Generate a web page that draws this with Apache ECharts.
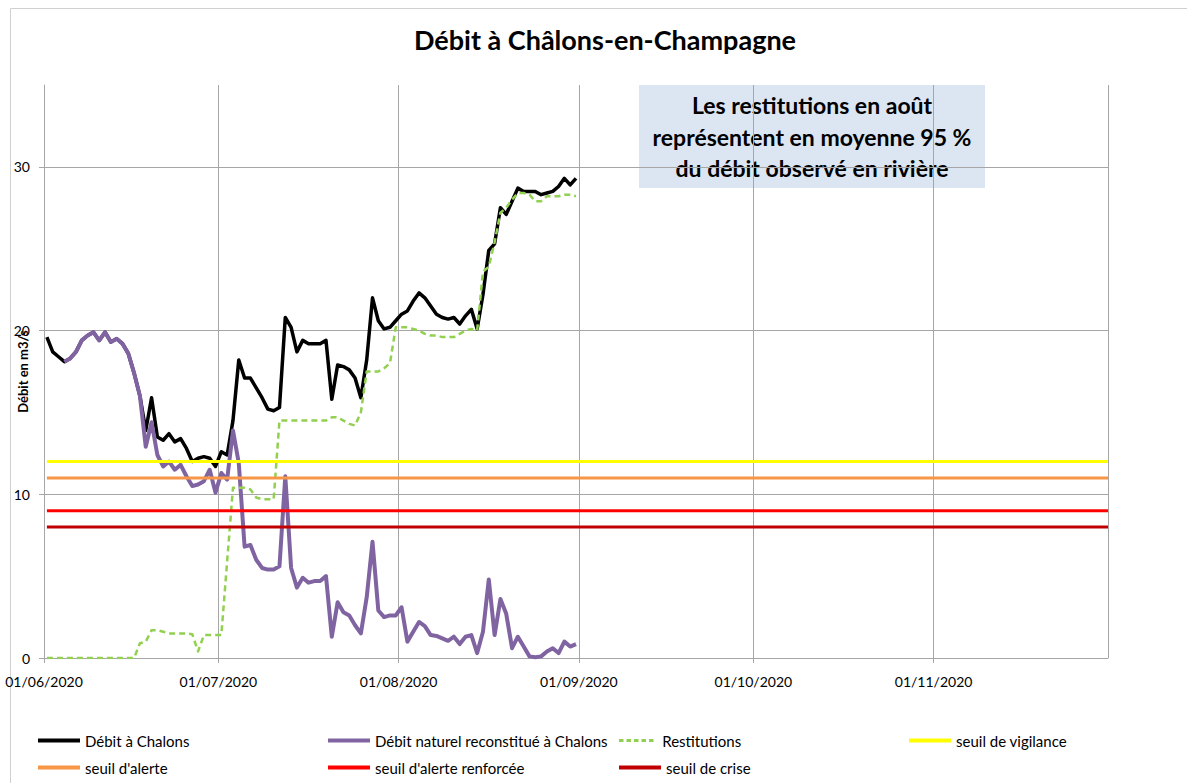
<!DOCTYPE html>
<html>
<head>
<meta charset="utf-8">
<script src="https://cdn.jsdelivr.net/npm/echarts@6/dist/echarts.min.js"></script>
<style>
html,body{margin:0;padding:0;background:#ffffff;}
#chart{width:1187px;height:783px;}
</style>
</head>
<body>
<div id="chart"></div>
<script>
// ---------------- DATA ----------------
// Daily values from 01/06/2020 (index 0) to 31/08/2020 (index 91), in m3/s
const firstDay = '2020-06-01';
const axisStart = '2020-06-01';
const axisEnd = '2020-12-01';

const debitChalons = [
  19.6, 18.7, 18.4, 18.1, 18.3, 18.7, 19.4, 19.7, 19.9, 19.4,
  19.9, 19.3, 19.5, 19.2, 18.6, 17.4, 16.0, 13.9, 15.9, 13.5,
  13.3, 13.7, 13.2, 13.4, 12.8, 12.0, 12.2, 12.3, 12.2, 11.7,
  12.6, 12.4, 14.5, 18.2, 17.1, 17.1, 16.5, 15.9, 15.2, 15.1,
  15.3, 20.8, 20.2, 18.7, 19.4, 19.2, 19.2, 19.2, 19.4, 15.8,
  17.9, 17.8, 17.6, 17.1, 15.9, 18.2, 22.0, 20.6, 20.1, 20.2,
  20.6, 21.0, 21.2, 21.8, 22.3, 22.0, 21.5, 21.0, 20.8, 20.7,
  20.8, 20.4, 20.9, 21.3, 20.1, 22.2, 24.9, 25.3, 27.5, 27.1,
  27.9, 28.7, 28.5, 28.5, 28.5, 28.3, 28.4, 28.5, 28.8, 29.3,
  28.9, 29.3
];

const debitNaturel = [
  null, null, null, 18.1, 18.3, 18.7, 19.4, 19.7, 19.9, 19.4,
  19.9, 19.3, 19.5, 19.2, 18.6, 17.4, 16.0, 12.9, 14.4, 12.4,
  11.7, 12.0, 11.5, 11.8, 11.1, 10.5, 10.6, 10.8, 11.5, 10.1,
  11.3, 10.9, 13.9, 11.9, 6.8, 6.9, 6.0, 5.5, 5.4, 5.4,
  5.6, 11.1, 5.5, 4.3, 4.9, 4.6, 4.7, 4.7, 5.0, 1.3,
  3.4, 2.8, 2.6, 2.0, 1.5, 3.7, 7.1, 2.9, 2.5, 2.6,
  2.6, 3.1, 1.0, 1.6, 2.2, 1.95, 1.4, 1.35, 1.2, 1.05,
  1.3, 0.85, 1.3, 1.4, 0.3, 1.6, 4.8, 1.4, 3.6, 2.7,
  0.6, 1.3, 0.7, 0.1, 0.05, 0.1, 0.4, 0.6, 0.3, 1.0,
  0.7, 0.85
];

const restitutions = [
  0, 0, 0, 0, 0, 0, 0, 0, 0, 0,
  0, 0, 0, 0, 0, 0, 0.9, 1.0, 1.7, 1.7,
  1.6, 1.5, 1.5, 1.5, 1.5, 1.45, 0.4, 1.4, 1.4, 1.4,
  1.4, 5.9, 10.4, 10.4, 10.4, 10.3, 9.8, 9.7, 9.7, 9.7,
  14.5, 14.5, 14.5, 14.5, 14.5, 14.5, 14.5, 14.5, 14.5, 14.7,
  14.7, 14.5, 14.3, 14.2, 15.0, 17.5, 17.5, 17.5, 17.7, 18.0,
  20.2, 20.2, 20.2, 20.1, 20.0, 19.8, 19.7, 19.7, 19.6, 19.6,
  19.6, 19.8, 20.0, 20.1, 20.0, 23.6, 23.9, 25.4, 27.2, 27.5,
  28.0, 28.4, 28.4, 28.3, 27.9, 27.9, 28.2, 28.2, 28.2, 28.3,
  28.3, 28.2
];

const seuilVigilance = 12;
const seuilAlerte = 11;
const seuilAlerteRenforcee = 9;
const seuilCrise = 8;

const yTicks = [0, 10, 20, 30];
const seriesNames = [
  'Débit à Chalons',
  'Débit naturel reconstitué à Chalons',
  'Restitutions',
  'seuil de vigilance',
  "seuil d'alerte",
  "seuil d'alerte renforcée",
  'seuil de crise'
];
const titleText = 'Débit à Châlons-en-Champagne';
const yAxisName = 'Débit en m3/s';
const noteLines = [
  'Les restitutions en août',
  'représentent en moyenne 95 %',
  'du débit observé en rivière'
];

// ---------------- HELPERS ----------------
const FONT = 'Lato, "Liberation Sans", sans-serif';
function parseDay(s) { const p = s.split('-').map(Number); return new Date(p[0], p[1] - 1, p[2]); }
const day0 = parseDay(firstDay);
// daily points sit in the middle of their day (Excel date axis "between tick marks")
function dayTime(i) { return new Date(day0.getFullYear(), day0.getMonth(), day0.getDate() + i, 12).getTime(); }
const xMin = parseDay(axisStart).getTime();
const xMax = parseDay(axisEnd).getTime();
function toPairs(arr) { return arr.map((v, i) => [dayTime(i), v]); }
function flat(v) { return [[dayTime(0), v], [xMax, v]]; }
function pad(n) { return (n < 10 ? '0' : '') + n; }

const colors = ['#000000', '#8064a2', '#92d050', '#ffff00', '#f79646', '#ff0000', '#c00000'];
const widths = [3.5, 4, 2.5, 3, 3, 3, 3];
const seriesData = [
  toPairs(debitChalons), toPairs(debitNaturel), toPairs(restitutions),
  flat(seuilVigilance), flat(seuilAlerte), flat(seuilAlerteRenforcee), flat(seuilCrise)
];

const series = seriesNames.map((name, k) => ({
  name: name,
  type: 'line',
  data: seriesData[k],
  symbol: 'none',
  showSymbol: false,
  connectNulls: false,
  animation: false,
  itemStyle: { color: colors[k] },
  lineStyle: {
    color: colors[k],
    width: widths[k],
    type: k === 2 ? [6, 4] : 'solid',
    join: 'round'
  },
  emphasis: { disabled: true },
  z: 2 + k
}));

// legend placement (two rows)
const legendPlaces = [
  [38, 733], [328, 733], [619, 733], [909, 733],
  [38, 760], [328, 760], [619, 760]
];
const dashedIcon = 'path://M0 0H6V4H0Z M10 0H16V4H10Z M20 0H26V4H20Z M30 0H36V4H30Z M40 0H46V4H40Z';
const legends = seriesNames.map((name, k) => ({
  data: [{ name: name, icon: k === 2 ? dashedIcon : 'rect' }],
  left: legendPlaces[k][0],
  top: legendPlaces[k][1],
  padding: 0,
  itemWidth: 42,
  itemHeight: k === 2 ? 3 : 4,
  selectedMode: false,
  itemStyle: { color: colors[k] },
  textStyle: { fontSize: 15, color: '#000', fontFamily: FONT }
}));

const chart = echarts.init(document.getElementById('chart'), null, { renderer: 'svg' });

chart.setOption({
  backgroundColor: '#ffffff',
  animation: false,
  textStyle: { fontFamily: FONT },
  title: {
    text: titleText,
    left: 600,
    top: 21,
    textAlign: 'center',
    textStyle: { fontSize: 27, fontWeight: 'bold', color: '#000', fontFamily: FONT }
  },
  legend: legends,
  grid: { left: 44, right: 79, top: 85, bottom: 125, containLabel: false, outerBoundsMode: 'none' },
  xAxis: {
    type: 'time',
    min: xMin,
    max: xMax,
    splitNumber: 6,
    axisLine: { show: true, lineStyle: { color: '#a6a6a6', width: 1 } },
    axisTick: { show: true, length: 5, lineStyle: { color: '#a6a6a6' } },
    splitLine: { show: true, lineStyle: { color: '#a6a6a6', width: 1 } },
    minorTick: { show: false },
    axisLabel: {
      color: '#000',
      fontSize: 14,
      fontFamily: FONT,
      margin: 16,
      hideOverlap: false,
      formatter: function (value) {
        const d = new Date(value);
        if (value >= xMax) return '';
        return pad(d.getDate()) + '/' + pad(d.getMonth() + 1) + '/' + d.getFullYear();
      }
    }
  },
  yAxis: {
    type: 'value',
    min: yTicks[0],
    max: 35,
    interval: yTicks[1] - yTicks[0],
    name: yAxisName,
    nameLocation: 'middle',
    nameRotate: 90,
    nameGap: 15,
    nameMoveOverlap: false,
    nameTextStyle: { fontSize: 13, fontWeight: 'bold', color: '#000', fontFamily: FONT },
    axisLine: { show: true, lineStyle: { color: '#a6a6a6', width: 1 } },
    axisTick: { show: true, length: 5, lineStyle: { color: '#a6a6a6' } },
    axisLabel: { color: '#000', fontSize: 14, fontFamily: FONT, margin: 14, showMaxLabel: false },
    splitLine: { show: true, showMaxLine: false, lineStyle: { color: '#a6a6a6', width: 1 } }
  },
  tooltip: { show: false },
  graphic: [
    {
      type: 'rect',
      silent: true,
      z: -10,
      shape: { x: 10.5, y: 8.5, width: 1400, height: 1000 },
      style: { fill: 'none', stroke: '#d0d0d0', lineWidth: 1 }
    },
    {
      type: 'group',
      silent: true,
      z: 100,
      children: [
        {
          type: 'rect',
          shape: { x: 639, y: 85, width: 346, height: 103 },
          style: { fill: '#dce6f2', stroke: 'none' }
        },
        {
          type: 'text',
          x: 812,
          y: 136.5,
          style: {
            text: noteLines.join('\n'),
            fill: '#000',
            font: 'bold 23px ' + FONT,
            align: 'center',
            verticalAlign: 'middle',
            lineHeight: 31.5
          }
        }
      ]
    }
  ],
  series: series
});
</script>
</body>
</html>
